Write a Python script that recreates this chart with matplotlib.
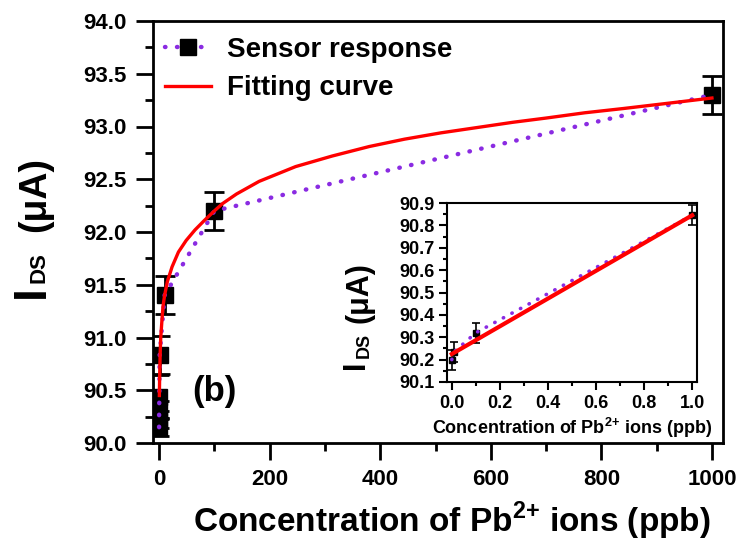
import matplotlib
matplotlib.use('Agg')
import matplotlib.pyplot as plt
from matplotlib.lines import Line2D
from matplotlib.ticker import MultipleLocator, FormatStrFormatter

plt.rcParams['font.family'] = ['Liberation Sans', 'DejaVu Sans']
plt.rcParams['font.weight'] = 'bold'
plt.rcParams['mathtext.fontset'] = 'custom'
plt.rcParams['mathtext.rm'] = 'Liberation Sans:bold'
plt.rcParams['mathtext.bf'] = 'Liberation Sans:bold'

# main panel: sensor response (ppb, uA)
conc = [0, 0.01, 0.1, 0.5, 1, 10, 100, 1000]
ids = [90.15, 90.22, 90.32, 90.44, 90.83, 91.40, 92.20, 93.30]
ids_err = [0.08, 0.08, 0.08, 0.20, 0.18, 0.18, 0.18, 0.18]

# fitting curve
fit_x = [0.5, 1, 2, 3, 5, 7, 10, 15, 23.5, 35, 49, 65, 82, 100, 115, 140,
         181, 247, 313, 380, 444, 510, 575, 640, 700, 770, 839, 920, 1000]
fit_y = [90.45, 90.62, 90.85, 91.00, 91.15, 91.29, 91.40, 91.53, 91.67, 91.81,
         91.92, 92.02, 92.11, 92.20, 92.27, 92.36, 92.48, 92.62, 92.72, 92.81,
         92.88, 92.94, 92.99, 93.04, 93.08, 93.13, 93.17, 93.22, 93.27]

# inset: low concentration range
in_conc = [0, 0.01, 0.1, 1]
in_ids = [90.20, 90.235, 90.32, 90.845]
in_err = [0.045, 0.045, 0.045, 0.045]
in_fit_x = [0, 1]
in_fit_y = [90.225, 90.845]

PURPLE = '#8a2be2'
RED = '#ff0000'
W, H = 740, 544
XLABEL = r'Concentration of Pb$^{2{+}}$ ions (ppb)'

fig = plt.figure(figsize=(7.4, 5.44), dpi=100)
ax = fig.add_axes([153 / W, 1 - 443 / H, 570 / W, 422 / H])

ax.errorbar(conc, ids, yerr=ids_err, fmt='s', color='black', ms=11,
            ecolor='black', elinewidth=2, capsize=7, capthick=2, zorder=3)
ax.plot(conc, ids, color=PURPLE, lw=3.2, linestyle=(0, (0.1, 2.6)),
        dash_capstyle='round', zorder=4)
ax.plot(fit_x, fit_y, color=RED, lw=2.4, zorder=5)

ax.set_xlim(-11, 1020)
ax.set_ylim(90.0, 94.0)
ax.xaxis.set_major_locator(MultipleLocator(200))
ax.xaxis.set_minor_locator(MultipleLocator(100))
ax.yaxis.set_major_locator(MultipleLocator(0.5))
ax.yaxis.set_minor_locator(MultipleLocator(0.25))
ax.yaxis.set_major_formatter(FormatStrFormatter('%.1f'))
ax.tick_params(which='both', direction='out', width=2, top=False, right=False)
ax.tick_params(which='major', length=12, labelsize=16, pad=7)
ax.tick_params(which='minor', length=6)
for s in ax.spines.values():
    s.set_linewidth(2)

ax.set_xlabel(XLABEL, fontsize=24, fontweight='bold')
ax.xaxis.set_label_coords((452 - 153) / 570, -0.135)

fig.text(32 / W, 1 - 292 / H, 'I', fontsize=33, fontweight='bold',
         rotation=90, ha='center', va='center')
fig.text(39 / W, 1 - 268 / H, 'DS', fontsize=16, fontweight='bold',
         rotation=90, ha='center', va='center')
fig.text(35 / W, 1 - 195 / H, '(\u03bcA)', fontsize=27, fontweight='bold',
         rotation=90, ha='center', va='center')

fig.text(214 / W, 1 - 392 / H, '(b)', fontsize=25, fontweight='bold',
         ha='center', va='center')

handles = [
    Line2D([], [], color=PURPLE, lw=3.2, linestyle=(0, (0.1, 2.6)),
           dash_capstyle='round', marker='s', ms=11, mfc='black', mec='black'),
    Line2D([], [], color=RED, lw=2.4),
]
ax.legend(handles, ['Sensor response', 'Fitting curve'], loc='upper left',
          bbox_to_anchor=(0.021, 0.962), frameon=False, fontsize=20,
          handlelength=1.65, handletextpad=0.6, labelspacing=0.44,
          borderpad=0, borderaxespad=0)

# inset
ins = fig.add_axes([447 / W, 1 - 382 / H, 250 / W, 179 / H])
ins.errorbar(in_conc, in_ids, yerr=in_err, fmt='s', color='black', ms=5,
             ecolor='black', elinewidth=1.2, capsize=3, capthick=1.2, zorder=3)
ins.plot(in_conc, in_ids, color=PURPLE, lw=2.6, linestyle=(0, (0.1, 2.6)),
         dash_capstyle='round', zorder=4)
ins.plot(in_fit_x, in_fit_y, color=RED, lw=3, zorder=5)
ins.set_xlim(-0.02, 1.02)
ins.set_ylim(90.1, 90.9)
ins.xaxis.set_major_locator(MultipleLocator(0.2))
ins.xaxis.set_minor_locator(MultipleLocator(0.1))
ins.yaxis.set_major_locator(MultipleLocator(0.1))
ins.yaxis.set_minor_locator(MultipleLocator(0.05))
ins.xaxis.set_major_formatter(FormatStrFormatter('%.1f'))
ins.yaxis.set_major_formatter(FormatStrFormatter('%.1f'))
ins.tick_params(which='both', direction='out', width=1.5, top=False, right=False)
ins.tick_params(which='major', length=6, labelsize=13, pad=3)
ins.tick_params(which='minor', length=3)
for s in ins.spines.values():
    s.set_linewidth(1.5)
ins.set_xlabel(XLABEL, fontsize=13, fontweight='bold', labelpad=3)

fig.text(356 / W, 1 - 365 / H, 'I', fontsize=22, fontweight='bold',
         rotation=90, ha='center', va='center')
fig.text(364 / W, 1 - 345 / H, 'DS', fontsize=13, fontweight='bold',
         rotation=90, ha='center', va='center')
fig.text(360 / W, 1 - 293 / H, '(\u03bcA)', fontsize=22, fontweight='bold',
         rotation=90, ha='center', va='center')

fig.savefig('out.png', dpi=100)
